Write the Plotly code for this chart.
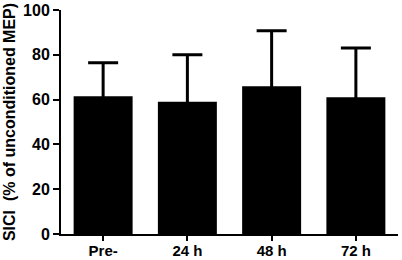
import plotly.graph_objects as go

categories = ["Pre-", "24 h", "48 h", "72 h"]
means = [61.5, 59.0, 66.0, 61.1]
sd_upper = [14.9, 21.0, 24.7, 21.9]
y_ticks = [0, 20, 40, 60, 80, 100]

fig = go.Figure()
fig.add_trace(go.Bar(
    x=categories, y=means, width=0.7,
    marker=dict(color="black", line=dict(width=0)),
    error_y=dict(type="data", array=sd_upper, arrayminus=[5]*len(means),
                 symmetric=False, color="black", thickness=3, width=15),
))
font = dict(family="Liberation Sans, Arial, sans-serif", color="black", weight="bold")
fig.update_layout(
    width=402, height=260,
    margin=dict(l=61, r=4, t=10, b=26, pad=0),
    plot_bgcolor="white", paper_bgcolor="white",
    showlegend=False,
    xaxis=dict(range=[-0.5, 3.5], showline=True, linecolor="black", linewidth=2,
               ticks="outside", ticklen=5, tickwidth=2, tickcolor="black",
               tickfont=dict(size=15, **font), showgrid=False, zeroline=False,
               automargin=False, ticklabelstandoff=-3),
    yaxis=dict(range=[0, 100], tickvals=y_ticks, showline=True, linecolor="black",
               linewidth=2, ticks="outside", ticklen=6, tickwidth=2, tickcolor="black",
               tickfont=dict(size=16, **font), showgrid=False, zeroline=False,
               automargin=False, ticklabelstandoff=0,
               title=dict(text="SICI  (% of unconditioned MEP)",
                          font=dict(size=16, **font), standoff=3)),
)
fig.write_html("out.html", config={"displayModeBar": False},
               post_script="document.body.style.margin='0';document.body.style.overflow='hidden';")
